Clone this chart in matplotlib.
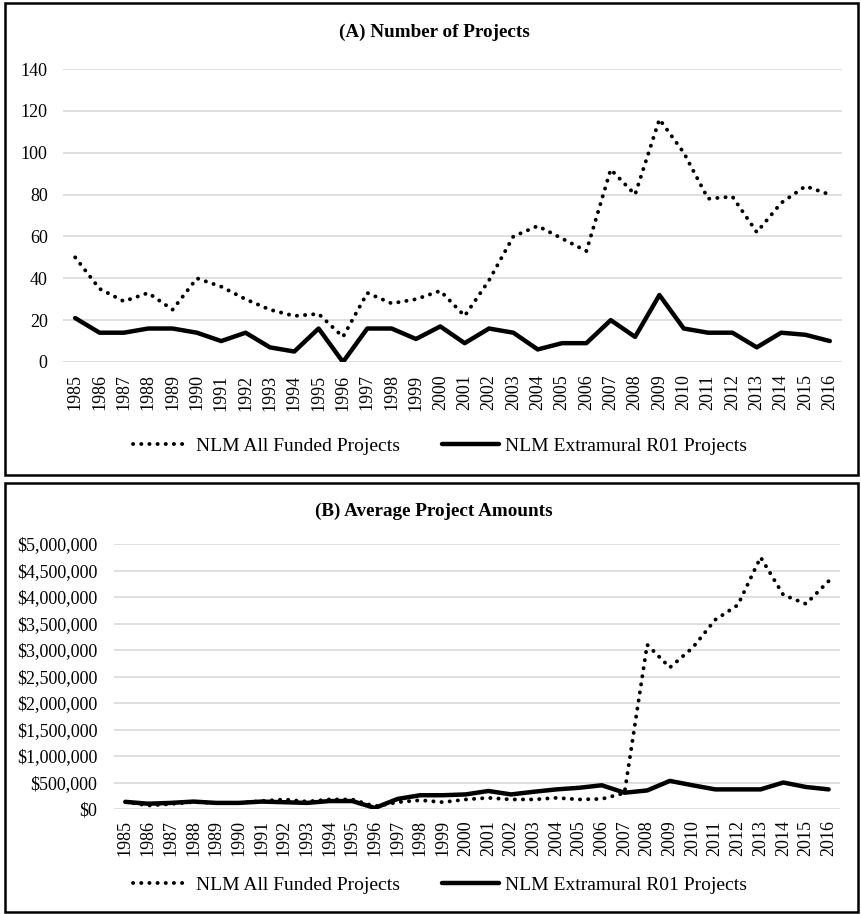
import matplotlib.pyplot as plt
import matplotlib.ticker as mticker
from matplotlib.lines import Line2D
from matplotlib.patches import Rectangle

plt.rcParams['font.family'] = ['Liberation Serif', 'DejaVu Serif']

years = ['1985', '1986', '1987', '1988', '1989', '1990', '1991', '1992',
         '1993', '1994', '1995', '1996', '1997', '1998', '1999', '2000',
         '2001', '2002', '2003', '2004', '2005', '2006', '2007', '2008',
         '2009', '2010', '2011', '2012', '2013', '2014', '2015', '2016']

# (A) number of projects
all_count = [50, 35, 29, 33, 25, 40, 36, 30, 25, 22, 23, 12, 33, 28, 30, 34,
             22, 39, 60, 65, 59, 53, 92, 80, 116, 100, 78, 79, 62, 76, 84, 80]
r01_count = [21, 14, 14, 16, 16, 14, 10, 14, 7, 5, 16, 0, 16, 16, 11, 17,
             9, 16, 14, 6, 9, 9, 20, 12, 32, 16, 14, 14, 7, 14, 13, 10]

# (B) average project amounts
all_amount = [135000, 65000, 95000, 130000, 115000, 115000, 150000, 180000,
              140000, 180000, 180000, 50000, 128000, 166000, 128000, 180000,
              210000, 180000, 180000, 210000, 180000, 190000, 300000, 3100000,
              2670000, 3040000, 3570000, 3850000, 4750000, 4040000, 3870000, 4300000]
r01_amount = [135000, 100000, 115000, 140000, 115000, 115000, 140000, 128000,
              115000, 150000, 150000, 20000, 190000, 260000, 260000, 275000,
              340000, 275000, 325000, 370000, 400000, 448000, 307000, 350000,
              530000, 448000, 370000, 370000, 370000, 500000, 415000, 370000]

label_all = 'NLM All Funded Projects'
label_r01 = 'NLM Extramural R01 Projects'

W, H = 861, 914
fig = plt.figure(figsize=(W / 100, H / 100), dpi=100)

def px(x0, y_top, x1, y_bot):
    return [x0 / W, 1 - y_bot / H, (x1 - x0) / W, (y_bot - y_top) / H]

dot_kw = dict(color='black', linewidth=2.8, linestyle=(0, (0.05, 2.05)),
              dash_capstyle='round')
solid_kw = dict(color='black', linewidth=3.2, solid_capstyle='round')

def style(ax, xpad, ypad):
    x = range(len(years))
    ax.set_xlim(-0.5, len(years) - 0.5)
    ax.set_xticks(list(x))
    ax.set_xticklabels(years, rotation=90)
    ax.tick_params(axis='both', length=0, labelsize=13)
    ax.tick_params(axis='x', pad=xpad)
    ax.tick_params(axis='y', pad=ypad)
    for s in ax.spines.values():
        s.set_visible(False)
    ax.grid(axis='y', color='#d9d9d9', linewidth=1.2)
    ax.set_axisbelow(True)

# panel A
ax1 = fig.add_axes(px(63, 69, 842, 362))
ax1.plot(range(len(years)), all_count, **dot_kw)
ax1.plot(range(len(years)), r01_count, **solid_kw)
ax1.set_ylim(0, 140)
ax1.set_yticks(range(0, 141, 20))
style(ax1, 9, 11)

# panel B
ax2 = fig.add_axes(px(114, 544, 840, 809))
ax2.plot(range(len(years)), all_amount, **dot_kw)
ax2.plot(range(len(years)), r01_amount, **solid_kw)
ax2.set_ylim(0, 5000000)
ax2.set_yticks(range(0, 5000001, 500000))
ax2.yaxis.set_major_formatter(mticker.FuncFormatter(lambda v, p: '${:,.0f}'.format(v)))
style(ax2, 8, 12)

fig.text(434 / W, 1 - 32 / H, '(A) Number of Projects', ha='center', va='center',
         fontsize=13.8, fontweight='bold')
fig.text(434 / W, 1 - 511 / H, '(B) Average Project Amounts', ha='center', va='center',
         fontsize=13.8, fontweight='bold')

handles = [Line2D([], [], **dot_kw), Line2D([], [], **solid_kw)]
for ypos in (446, 885):
    fig.legend(handles, [label_all, label_r01], loc='center',
               bbox_to_anchor=(440 / W, 1 - ypos / H), ncol=2, frameon=False,
               fontsize=14, handlelength=2.9, handletextpad=0.3,
               columnspacing=2.2)

# outer frames
for y0, y1 in ((3, 475), (483, 912)):
    fig.patches.append(Rectangle((5 / W, 1 - y1 / H), 853 / W, (y1 - y0) / H,
                                 transform=fig.transFigure, fill=False,
                                 edgecolor='black', linewidth=1.8))

fig.savefig('out.png', dpi=100)
